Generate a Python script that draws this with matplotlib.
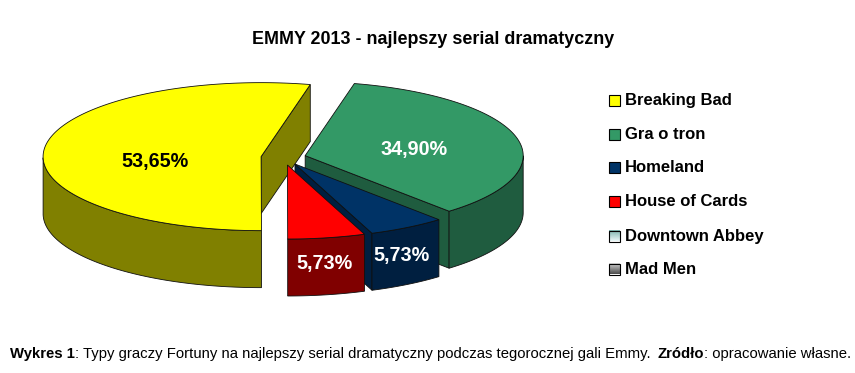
import matplotlib
matplotlib.use('Agg')
import matplotlib.pyplot as plt
import numpy as np
from matplotlib.patches import Polygon, Rectangle

# Datos del grafico
categorias = ['Breaking Bad', 'Gra o tron', 'Homeland', 'House of Cards', 'Downtown Abbey', 'Mad Men']
valores = [53.65, 34.90, 5.73, 5.73, 0, 0]
etiquetas = ['53,65%', '34,90%', '5,73%', '5,73%']
colores = ['#FFFF00', '#339966', '#003366', '#FF0000']
colores_lado = ['#808000', '#1F5C3F', '#001F40', '#800000']
colores_leyenda = ['#FFFF00', '#339966', '#003366', '#FF0000']
degradados = {4: ('#7FB5B0', '#E6F5F5'), 5: ('#D0D0D0', '#505050')}
color_texto = ['black', 'white', 'white', 'white']
pos_etiquetas = [(155, 162), (414, 149), (401, 256), (324, 264)]

plt.rcParams['font.family'] = ['Liberation Sans', 'DejaVu Sans']

fig = plt.figure(figsize=(8.55, 3.73), dpi=100)
ax = fig.add_axes([0, 0, 1, 1])
ax.set_xlim(0, 855)
ax.set_ylim(373, 0)
ax.axis('off')

# Geometria del pastel
cx, cy = 283.4, 157.5
rx, ry = 218, 74
alto = 57
sep = 0.103
inicio = 270.1


def punto(c, t):
    return c[0] + rx * np.cos(t), c[1] - ry * np.sin(t)


def cara(puntos, color, z):
    ax.add_patch(Polygon(puntos, closed=True, facecolor=color, edgecolor='#101010', linewidth=0.6, zorder=z))


# Angulos en sentido horario desde el inicio de Breaking Bad
a = inicio
for i in range(4):
    b = a - valores[i] * 3.6
    medio = np.radians((a + b) / 2)
    c = (cx + sep * rx * np.cos(medio), cy - sep * ry * np.sin(medio))
    t1, t2 = np.radians(a), np.radians(b)
    z = i * 10 + 2

    # Cara del corte que mira al frente
    if i != 3:
        x, y = punto(c, t2)
        cara([c, (x, y), (x, y + alto), (c[0], c[1] + alto)], colores_lado[i], z)

    # Pared exterior, solo la mitad de abajo
    ts = np.linspace(t1, t2, 200)
    ts = ts[np.sin(ts) < 0]
    if len(ts) > 1:
        xs, ys = punto(c, ts)
        pared = list(zip(xs, ys)) + list(zip(xs[::-1], ys[::-1] + alto))
        cara(pared, colores_lado[i], z + 1)

    # Tapa
    ts = np.linspace(t1, t2, 200)
    xs, ys = punto(c, ts)
    cara([c] + list(zip(xs, ys)), colores[i], z + 2)
    a = b

for i in range(4):
    ax.text(pos_etiquetas[i][0], pos_etiquetas[i][1], etiquetas[i], color=color_texto[i],
            fontsize=14.2, fontweight='bold', ha='center', va='center', zorder=60)

# Titulo
ax.text(433, 39, 'EMMY 2013 - najlepszy serial dramatyczny', fontsize=12.9, fontweight='bold',
        ha='center', va='center')

# Leyenda
ys_leyenda = [100, 134, 167, 201, 236, 269]
for i in range(6):
    y = ys_leyenda[i]
    if i < 4:
        ax.add_patch(Rectangle((609, y - 5.5), 11, 11, facecolor=colores_leyenda[i], edgecolor='black', linewidth=0.8))
    else:
        arriba = np.array(matplotlib.colors.to_rgb(degradados[i][0]))
        abajo = np.array(matplotlib.colors.to_rgb(degradados[i][1]))
        grad = np.linspace(0, 1, 11)[:, None, None]
        img = arriba[None, None, :] * (1 - grad) + abajo[None, None, :] * grad
        ax.imshow(img, extent=(609, 620, y + 5.5, y - 5.5), aspect='auto', zorder=2)
        ax.add_patch(Rectangle((609, y - 5.5), 11, 11, facecolor='none', edgecolor='black', linewidth=0.8, zorder=3))
    ax.text(625, y + 0.5, categorias[i], fontsize=12, fontweight='bold', ha='left', va='center')
ax.set_xlim(0, 855)
ax.set_ylim(373, 0)

# Pie de grafico, con partes en negrita
partes = [('Wykres 1', 'bold'),
          (': Typy graczy Fortuny na najlepszy serial dramatyczny podczas tegorocznej gali Emmy. ', 'normal'),
          ('Zródło', 'bold'),
          (': opracowanie własne.', 'normal')]
fig.canvas.draw()
rend = fig.canvas.get_renderer()
x = 10
for texto, peso in partes:
    t = ax.text(x, 358, texto, fontsize=10.75, fontweight=peso, ha='left', va='baseline')
    ancho = t.get_window_extent(rend).width
    if texto.endswith(' '):
        ancho += 2.5
    x += ancho

fig.savefig('out.png', dpi=100)
